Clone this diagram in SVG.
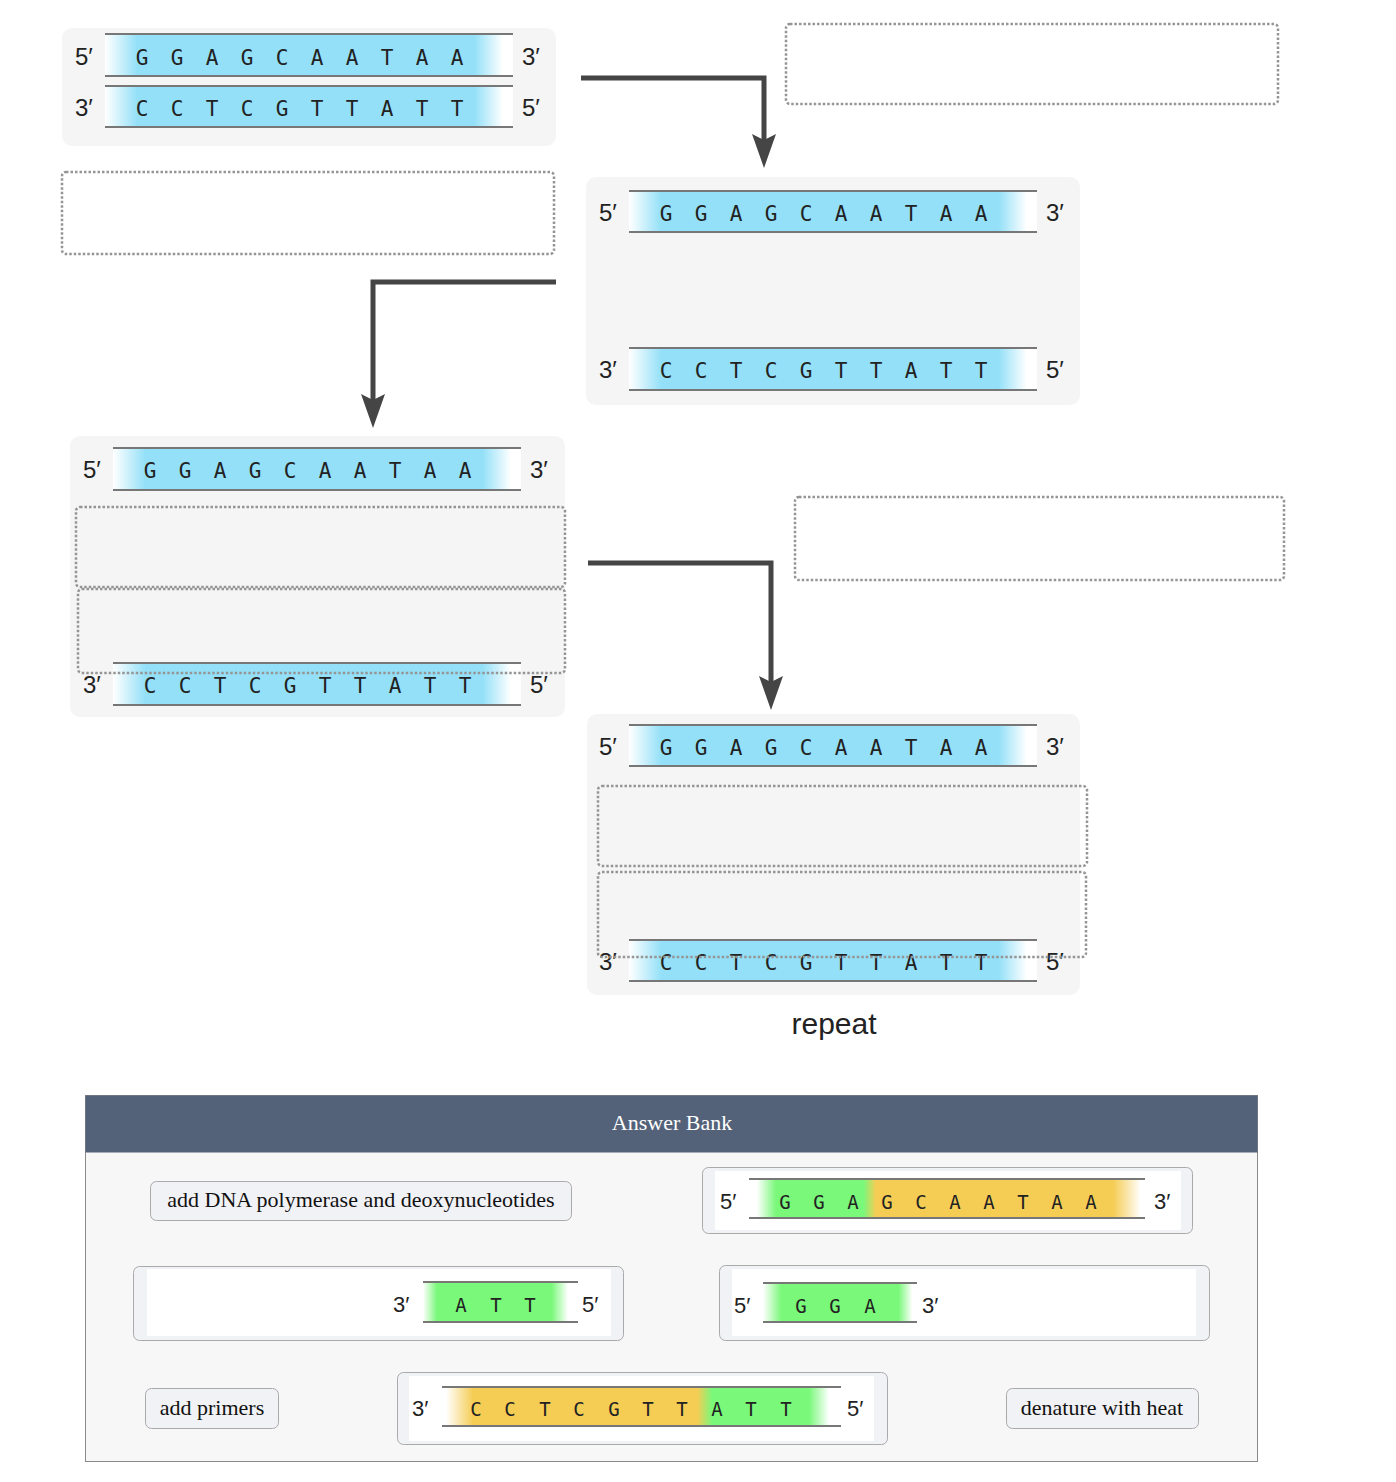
<svg xmlns="http://www.w3.org/2000/svg" width="1396" height="1482" viewBox="0 0 1396 1482">
<style>
.bg{fill:#f5f5f5}
.ln{stroke:#777;stroke-width:2}
.nt{font-family:"DejaVu Sans Mono",monospace;font-size:21px;fill:#222;text-anchor:middle}
.nt2{font-family:"DejaVu Sans Mono",monospace;font-size:19px;fill:#222;text-anchor:middle}
.lb{font-family:"Liberation Sans",Arial,sans-serif;font-size:24px;fill:#222}
.lb2{font-family:"Liberation Sans",Arial,sans-serif;font-size:22px;fill:#222}
.drop{fill:none;stroke:#959595;stroke-width:2.5;stroke-dasharray:2.5 2}
.conn{fill:none;stroke:#454545;stroke-width:5;stroke-linejoin:miter}
.card{fill:#f1f2f6;stroke:#aaa;stroke-width:1}
.inner{fill:#fff}
.btn{fill:#f1f2f6;stroke:#aaa;stroke-width:1}
.btxt{font-family:"Liberation Serif","Times New Roman",serif;font-size:22px;fill:#111;text-anchor:middle}
</style>
<defs>
<linearGradient id="gb" x1="0" y1="0" x2="1" y2="0">
<stop offset="0" stop-color="#fff"/><stop offset="0.08" stop-color="#93e0f8"/><stop offset="0.905" stop-color="#93e0f8"/><stop offset="0.975" stop-color="#fff"/><stop offset="1" stop-color="#fff"/>
</linearGradient>
<linearGradient id="gA" x1="0" y1="0" x2="1" y2="0">
<stop offset="0" stop-color="#fff"/><stop offset="0.02" stop-color="#fff"/><stop offset="0.068" stop-color="#7af87a"/><stop offset="0.29" stop-color="#7af87a"/><stop offset="0.32" stop-color="#f5cd55"/><stop offset="0.92" stop-color="#f5cd55"/><stop offset="0.99" stop-color="#fff"/><stop offset="1" stop-color="#fff"/>
</linearGradient>
<linearGradient id="gATT" x1="0" y1="0" x2="1" y2="0">
<stop offset="0" stop-color="#fff"/><stop offset="0.09" stop-color="#7af87a"/><stop offset="0.83" stop-color="#7af87a"/><stop offset="0.935" stop-color="#fff"/><stop offset="1" stop-color="#fff"/>
</linearGradient>
<linearGradient id="gGGA" x1="0" y1="0" x2="1" y2="0">
<stop offset="0" stop-color="#fff"/><stop offset="0.12" stop-color="#7af87a"/><stop offset="0.88" stop-color="#7af87a"/><stop offset="0.97" stop-color="#fff"/><stop offset="1" stop-color="#fff"/>
</linearGradient>
<linearGradient id="gCCT" x1="0" y1="0" x2="1" y2="0">
<stop offset="0" stop-color="#fff"/><stop offset="0.01" stop-color="#fff"/><stop offset="0.078" stop-color="#f5cd55"/><stop offset="0.64" stop-color="#f5cd55"/><stop offset="0.677" stop-color="#7af87a"/><stop offset="0.92" stop-color="#7af87a"/><stop offset="0.97" stop-color="#fff"/><stop offset="1" stop-color="#fff"/>
</linearGradient>
<marker id="ah" markerUnits="userSpaceOnUse" markerWidth="34" markerHeight="26" viewBox="0 0 34 26" refX="6" refY="13" orient="auto">
<path d="M0,1 L34,13 L0,25 L6,13 Z" fill="#454545"/>
</marker>
</defs>
<rect width="1396" height="1482" fill="#fff"/>

<!-- Panel 1 -->
<g id="panel1">
<rect class="bg" x="62" y="28" width="494" height="118" rx="10"/>
<g transform="translate(105,34)">
<rect x="0" y="1" width="408" height="40" fill="url(#gb)"/>
<line class="ln" x1="0" y1="0" x2="408" y2="0"/><line class="ln" x1="0" y1="42" x2="408" y2="42"/>
<text class="nt" x="37 72 107 142 177 212 247 282 317 352" y="31">GGAGCAATAA</text>
<text class="lb" x="-30" y="31">5′</text><text class="lb" x="417" y="31">3′</text>
</g>
<g transform="translate(105,86)">
<rect x="0" y="1" width="408" height="40" fill="url(#gb)"/>
<line class="ln" x1="0" y1="0" x2="408" y2="0"/><line class="ln" x1="0" y1="41" x2="408" y2="41"/>
<text class="nt" x="37 72 107 142 177 212 247 282 317 352" y="30">CCTCGTTATT</text>
<text class="lb" x="-30" y="30">3′</text><text class="lb" x="417" y="30">5′</text>
</g>
</g>

<g id="drop1"><rect class="drop" x="786" y="24" width="492" height="80" rx="4"/></g>
<g id="drop2"><rect class="drop" x="62" y="172" width="492" height="82" rx="4"/></g>
<g id="drop5"><rect class="drop" x="795" y="497" width="489" height="83" rx="4"/></g>

<!-- Panel 2 -->
<g id="panel2">
<rect class="bg" x="586" y="177" width="494" height="228" rx="10"/>
<g transform="translate(629,191)">
<rect x="0" y="1" width="408" height="40" fill="url(#gb)"/>
<line class="ln" x1="0" y1="0" x2="408" y2="0"/><line class="ln" x1="0" y1="41" x2="408" y2="41"/>
<text class="nt" x="37 72 107 142 177 212 247 282 317 352" y="30">GGAGCAATAA</text>
<text class="lb" x="-30" y="30">5′</text><text class="lb" x="417" y="30">3′</text>
</g>
<g transform="translate(629,348)">
<rect x="0" y="1" width="408" height="40" fill="url(#gb)"/>
<line class="ln" x1="0" y1="0" x2="408" y2="0"/><line class="ln" x1="0" y1="42" x2="408" y2="42"/>
<text class="nt" x="37 72 107 142 177 212 247 282 317 352" y="30">CCTCGTTATT</text>
<text class="lb" x="-30" y="30">3′</text><text class="lb" x="417" y="30">5′</text>
</g>
</g>

<!-- Panel 3 -->
<g id="panel3">
<rect class="bg" x="70" y="436" width="495" height="281" rx="10"/>
<g transform="translate(113,448)">
<rect x="0" y="1" width="408" height="40" fill="url(#gb)"/>
<line class="ln" x1="0" y1="0" x2="408" y2="0"/><line class="ln" x1="0" y1="42" x2="408" y2="42"/>
<text class="nt" x="37 72 107 142 177 212 247 282 317 352" y="30">GGAGCAATAA</text>
<text class="lb" x="-30" y="30">5′</text><text class="lb" x="417" y="30">3′</text>
</g>
<g transform="translate(113,663)">
<rect x="0" y="1" width="408" height="40" fill="url(#gb)"/>
<line class="ln" x1="0" y1="0" x2="408" y2="0"/><line class="ln" x1="0" y1="42" x2="408" y2="42"/>
<text class="nt" x="37 72 107 142 177 212 247 282 317 352" y="30">CCTCGTTATT</text>
<text class="lb" x="-30" y="30">3′</text><text class="lb" x="417" y="30">5′</text>
</g>
<rect id="drop3" class="drop" x="76" y="507" width="489" height="80" rx="4"/>
<rect id="drop4" class="drop" x="78" y="589" width="487" height="84" rx="4"/>
</g>

<!-- Panel 4 -->
<g id="panel4">
<rect class="bg" x="587" y="714" width="493" height="281" rx="10"/>
<g transform="translate(629,725)">
<rect x="0" y="1" width="408" height="40" fill="url(#gb)"/>
<line class="ln" x1="0" y1="0" x2="408" y2="0"/><line class="ln" x1="0" y1="41" x2="408" y2="41"/>
<text class="nt" x="37 72 107 142 177 212 247 282 317 352" y="30">GGAGCAATAA</text>
<text class="lb" x="-30" y="30">5′</text><text class="lb" x="417" y="30">3′</text>
</g>
<g transform="translate(629,940)">
<rect x="0" y="1" width="408" height="40" fill="url(#gb)"/>
<line class="ln" x1="0" y1="0" x2="408" y2="0"/><line class="ln" x1="0" y1="41" x2="408" y2="41"/>
<text class="nt" x="37 72 107 142 177 212 247 282 317 352" y="30">CCTCGTTATT</text>
<text class="lb" x="-30" y="30">3′</text><text class="lb" x="417" y="30">5′</text>
</g>
<rect id="drop6" class="drop" x="598" y="786" width="489" height="80" rx="4"/>
<rect id="drop7" class="drop" x="598" y="872" width="488" height="85" rx="4"/>
</g>

<g id="repeat"><text x="834" y="1034" font-family="Liberation Sans, Arial, sans-serif" font-size="30" fill="#222" text-anchor="middle">repeat</text></g>

<!-- Connectors -->
<g id="connectors">
<path class="conn" d="M581,78 H764 V140" marker-end="url(#ah)"/>
<path class="conn" d="M556,282 H373 V400" marker-end="url(#ah)"/>
<path class="conn" d="M588,563 H771 V682" marker-end="url(#ah)"/>
</g>

<!-- Answer Bank -->
<g id="answer-bank">
<rect x="85.5" y="1095.5" width="1172" height="366" fill="#f7f7f8" stroke="#8a8a8a" stroke-width="1"/>
<rect x="85.5" y="1095.5" width="1172" height="57" fill="#536279"/>
<text x="672" y="1130" font-family="Liberation Serif, Times New Roman, serif" font-size="22" fill="#fff" text-anchor="middle">Answer Bank</text>
</g>

<g id="ans-polymerase">
<rect class="btn" x="150.5" y="1181.5" width="421" height="39" rx="6"/>
<text class="btxt" x="361" y="1207">add DNA polymerase and deoxynucleotides</text>
</g>

<g id="ans-ggagcaataa">
<rect class="card" x="702.5" y="1167.5" width="490" height="66" rx="6"/>
<rect class="inner" x="715" y="1171" width="466" height="59"/>
<g transform="translate(749,1179)">
<rect x="0" y="1" width="396" height="38" fill="url(#gA)"/>
<line class="ln" x1="0" y1="0" x2="396" y2="0"/><line class="ln" x1="0" y1="39" x2="396" y2="39"/>
<text class="nt2" x="36 70 104 138 172 206 240 274 308 342" y="30">GGAGCAATAA</text>
<text class="lb2" x="-29" y="30">5′</text><text class="lb2" x="405" y="30">3′</text>
</g>
</g>

<g id="ans-att">
<rect class="card" x="133.5" y="1266.5" width="490" height="74" rx="6"/>
<rect class="inner" x="147" y="1269" width="464" height="67"/>
<g transform="translate(423,1282)">
<rect x="0" y="1" width="155" height="39" fill="url(#gATT)"/>
<line class="ln" x1="0" y1="0" x2="155" y2="0"/><line class="ln" x1="0" y1="40" x2="155" y2="40"/>
<text class="nt2" x="38 73 107" y="30">ATT</text>
<text class="lb2" x="-30" y="30">3′</text><text class="lb2" x="159" y="30">5′</text>
</g>
</g>

<g id="ans-gga">
<rect class="card" x="719.5" y="1265.5" width="490" height="75" rx="6"/>
<rect class="inner" x="732" y="1269" width="464" height="67"/>
<g transform="translate(763,1283)">
<rect x="0" y="1" width="154" height="38" fill="url(#gGGA)"/>
<line class="ln" x1="0" y1="0" x2="154" y2="0"/><line class="ln" x1="0" y1="39" x2="154" y2="39"/>
<text class="nt2" x="38 72 107" y="30">GGA</text>
<text class="lb2" x="-29" y="30">5′</text><text class="lb2" x="159" y="30">3′</text>
</g>
</g>

<g id="ans-primers">
<rect class="btn" x="145.5" y="1388.5" width="133" height="40" rx="6"/>
<text class="btxt" x="212" y="1415">add primers</text>
</g>

<g id="ans-cctcgttatt">
<rect class="card" x="397.5" y="1372.5" width="490" height="72" rx="6"/>
<rect class="inner" x="409" y="1376" width="465" height="65"/>
<g transform="translate(442,1387)">
<rect x="0" y="1" width="399" height="38" fill="url(#gCCT)"/>
<line class="ln" x1="0" y1="0" x2="399" y2="0"/><line class="ln" x1="0" y1="39" x2="399" y2="39"/>
<text class="nt2" x="34 68 103 137 172 206 240 275 309 344" y="29">CCTCGTTATT</text>
<text class="lb2" x="-30" y="29">3′</text><text class="lb2" x="405" y="29">5′</text>
</g>
</g>

<g id="ans-denature">
<rect class="btn" x="1006.5" y="1388.5" width="192" height="40" rx="6"/>
<text class="btxt" x="1102" y="1415">denature with heat</text>
</g>
</svg>
